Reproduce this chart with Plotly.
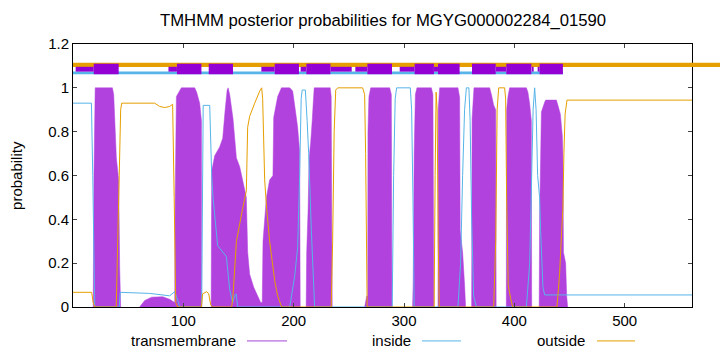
import plotly.graph_objects as go

TITLE = "TMHMM posterior probabilities for MGYG000002284_01590"
LENGTH = 561

# transmembrane posterior probability (read points: residue, probability)
tm_x = [0, 18.3, 19.0, 20.1, 35.7, 36.9, 39.3, 41.4, 42.3, 43.2, 60.4, 65.0, 71.3, 81.3, 87.6, 92.2,
        92.6, 93.7, 98.2, 110.3, 112.1, 114.8, 116.4, 116.6, 125.2, 125.7, 128.4, 132.9, 135.7, 137.9,
        139.7, 140.6, 142.0, 145.0, 148.1, 151.1, 154.1, 157.1, 158.3, 160.1, 163.8, 167.4, 170.1, 171.5,
        172.2, 175.3, 178.2, 181.2, 181.9, 185.5, 188.9, 196.4, 199.1, 200.9, 203.6, 205.4, 205.9,
        211.3, 211.8, 213.1, 214.0, 215.4, 216.8, 217.7, 218.6, 233.1, 234.0, 234.9,
        264.3, 266.2, 267.1, 267.3, 268.2, 269.8, 287.0, 288.5, 289.1,
        307.8, 308.3, 309.2, 310.3, 311.7, 324.8, 326.2, 327.1,
        330.8, 331.0, 332.3, 348.9, 350.4, 350.9, 353.1, 354.9, 355.8,
        361.3, 361.7, 363.4, 377.6, 379.2, 381.3, 383.1, 383.5,
        392.7, 393.0, 394.2, 395.7, 410.9, 412.3, 413.8, 415.4, 415.7,
        422.5, 422.9, 424.5, 427.5, 428.4, 438.1, 439.5, 441.7, 443.5, 444.0, 444.5, 446.5, 447.4, 448.3,
        561]
tm_y = [0, 0, 0.6, 1.0, 1.0, 0.97, 0.68, 0.58, 0.18, 0, 0, 0.03, 0.045, 0.047, 0.035, 0.02,
        0.5, 0.96, 1.0, 1.0, 0.98, 0.93, 0.85, 0, 0, 0.62, 0.69, 0.73, 0.77, 0.9,
        0.99, 1.0, 0.97, 0.86, 0.68, 0.64, 0.57, 0.5, 0.25, 0.15, 0.09, 0.05, 0.02, 0.02,
        0.3, 0.5, 0.58, 0.6, 0.865, 0.96, 1.0, 1.0, 0.985, 0.92, 0.82, 0.71, 0,
        0, 0.25, 0.45, 0.68, 0.75, 0.85, 0.93, 1.0, 1.0, 0.96, 0,
        0, 0.05, 0.05, 0.8, 0.96, 1.0, 1.0, 0.97, 0,
        0, 0.11, 0.7, 0.97, 1.0, 1.0, 0.97, 0,
        0, 0.9, 1.0, 1.0, 0.956, 0.35, 0.25, 0.1, 0,
        0, 0.86, 1.0, 1.0, 0.97, 0.92, 0.9, 0,
        0, 0.9, 0.96, 1.0, 1.0, 0.98, 0.93, 0.85, 0,
        0, 0.4, 0.89, 0.935, 0.944, 0.944, 0.92, 0.88, 0.78, 0.7, 0.25, 0.2, 0.05, 0,
        0]

# inside probability
in_x = [0, 16.7, 17.9, 19.7, 41.9, 42.8, 69.5, 87.6, 92.2, 94.9, 96.7,
        116.6, 118.0, 123.9, 125.7, 126.9, 131.1, 139.0, 142.0, 144.7, 146.5, 147.9, 149.2,
        196.4, 200.9, 203.6, 205.4, 206.8, 207.7, 210.6, 212.2, 213.6, 216.0, 219.0,
        289.3, 290.6, 292.0, 293.3, 305.7, 306.9, 308.1, 309.2,
        348.9, 351.3, 353.1, 354.9, 356.5, 358.8, 359.9, 361.3, 363.1, 365.6,
        410.9, 413.9, 415.7, 417.0, 418.4, 419.7, 421.1, 422.9, 423.8, 425.9, 427.5, 561]
in_y = [0.93, 0.93, 0.6, 0, 0, 0.067, 0.062, 0.051, 0.07, 0.03, 0,
        0, 0.92, 0.92, 0.6, 0.5, 0.28, 0.23, 0.08, 0.02, 0.05, 0.06, 0,
        0, 0.14, 0.27, 0.6, 0.95, 0.99, 0.99, 0.85, 0.7, 0.35, 0,
        0, 0.6, 0.95, 1.0, 1.0, 0.9, 0.5, 0,
        0, 0.2, 0.6, 0.9, 1.0, 1.0, 0.85, 0.4, 0.05, 0,
        0, 0.2, 0.6, 0.9, 1.0, 0.9, 0.6, 0.5, 0.35, 0.09, 0.055, 0.055]

# outside probability
out_x = [0, 16.9, 18.3, 19.7, 39.2, 40.5, 41.9, 43.2, 44.1, 74.0, 78.6, 83.1, 87.6, 90.3, 91.7, 93.1, 94.9,
         116.4, 117.5, 121.2, 123.0, 124.8, 126.6,
         143.8, 145.0, 148.1, 151.1, 153.8, 157.1, 158.3, 160.1, 164.7, 169.2, 171.0, 171.9, 173.7,
         175.5, 178.2, 182.8, 185.5, 189.1,
         234.0, 235.3, 236.7, 238.1, 239.9, 262.5, 264.3, 265.2, 266.6,
         327.3, 328.2, 329.1, 330.0, 331.0, 331.9,
         381.3, 383.1, 384.4, 385.8, 391.2, 392.1, 393.0, 394.4, 396.6, 398.5,
         438.6, 441.0, 442.9, 444.0, 444.9, 446.0, 447.7, 561]
out_y = [0.067, 0.067, 0.02, 0, 0, 0.3, 0.6, 0.9, 0.93, 0.93, 0.915, 0.91, 0.915, 0.925, 0.5, 0.02, 0,
         0, 0.06, 0.07, 0.06, 0.01, 0,
         0, 0.05, 0.3, 0.38, 0.45, 0.53, 0.82, 0.87, 0.93, 0.985, 1.0, 0.95, 0.58,
         0.45, 0.3, 0.12, 0.05, 0,
         0, 0.3, 0.8, 0.99, 1.0, 1.0, 0.97, 0.7, 0,
         0, 0.6, 0.98, 0.9, 0.3, 0,
         0, 0.3, 0.9, 1.0, 1.0, 0.95, 0.5, 0.1, 0.04, 0,
         0, 0.15, 0.35, 0.45, 0.7, 0.88, 0.944, 0.944]

# predicted topology header
tm_box_start = [18.8, 94.2, 123.0, 182.8, 211.5, 266.8, 309.6, 330.8, 361.6, 392.7, 422.9]
tm_box_end = [41.4, 116.4, 145.0, 204.8, 233.3, 289.1, 327.1, 350.4, 383.1, 415.4, 444.0]
low_box_start = [2.4, 86.5, 170.7, 206.3, 233.3, 255.9, 296.1, 327.1, 383.1, 415.7, 421.1]
low_box_end = [18.8, 94.2, 182.8, 211.5, 252.6, 266.8, 309.6, 330.8, 392.7, 417.5, 422.9]
inside_bar_end = 444.0
OUT_LEVEL = 1.105
IN_LEVEL = 1.068
TM_BOX = (1.062, 1.11)
LOW_BOX = (1.074, 1.096)

YMAX = 1.2
TM_FILL = "rgb(178,66,222)"
TM_BOX_COLOR = "#9400D3"
IN_COLOR = "#56B4E9"
OUT_COLOR = "#E69F00"
FONT = "Liberation Sans, Arial, sans-serif"
FS = 15

fig = go.Figure()

# split the transmembrane profile into closed polygons (one per non-zero run)
segments = []
cur = None
for i in range(len(tm_x)):
    xi, yi = tm_x[i], tm_y[i]
    if cur is None:
        if yi == 0 and i + 1 < len(tm_x) and tm_y[i + 1] > 0:
            cur = ([xi], [yi])
    else:
        cur[0].append(xi)
        cur[1].append(yi)
        if yi == 0:
            segments.append(cur)
            cur = None
            if i + 1 < len(tm_x) and tm_y[i + 1] > 0:
                cur = ([xi], [yi])

for sx, sy in segments:
    fig.add_trace(go.Scatter(x=sx, y=sy, mode="lines", fill="toself",
                             line=dict(color=TM_FILL, width=0.5, simplify=False), fillcolor=TM_FILL,
                             showlegend=False, hoverinfo="skip"))
fig.add_trace(go.Scatter(x=in_x, y=in_y, mode="lines",
                         line=dict(color=IN_COLOR, width=1, simplify=False), showlegend=False))
fig.add_trace(go.Scatter(x=out_x, y=out_y, mode="lines",
                         line=dict(color=OUT_COLOR, width=1, simplify=False), showlegend=False))

shapes = []
# outside header line (extends past the right border as in the original)
shapes.append(dict(type="line", xref="paper", yref="paper", x0=0, x1=1.05,
                   y0=OUT_LEVEL / YMAX, y1=OUT_LEVEL / YMAX,
                   line=dict(color=OUT_COLOR, width=4.3), layer="above"))
shapes.append(dict(type="line", xref="x", yref="y", x0=0, x1=inside_bar_end,
                   y0=IN_LEVEL, y1=IN_LEVEL, line=dict(color=IN_COLOR, width=2.7), layer="above"))
for s, e in zip(low_box_start, low_box_end):
    shapes.append(dict(type="rect", xref="x", yref="y", x0=s, x1=e, y0=LOW_BOX[0], y1=LOW_BOX[1],
                       fillcolor=TM_BOX_COLOR, line=dict(width=0), layer="above"))
for s, e in zip(tm_box_start, tm_box_end):
    shapes.append(dict(type="rect", xref="x", yref="y", x0=s, x1=e, y0=TM_BOX[0], y1=TM_BOX[1],
                       fillcolor=TM_BOX_COLOR, line=dict(width=0), layer="above"))

# legend (gnuplot style: text then line sample)
legend_items = [("transmembrane", "rgb(165,70,215)", 0.2666, 0.281, 0.3457),
                ("inside", IN_COLOR, 0.549, 0.5638, 0.6268),
                ("outside", OUT_COLOR, 0.830, 0.8465, 0.908)]
LEG_Y = -0.129
annotations = []
for name, col, tx, lx0, lx1 in legend_items:
    annotations.append(dict(text=name, xref="paper", yref="paper", x=tx, y=LEG_Y,
                            xanchor="right", yanchor="middle", showarrow=False,
                            font=dict(family=FONT, size=FS, color="black")))
    shapes.append(dict(type="line", xref="paper", yref="paper", x0=lx0, x1=lx1, y0=LEG_Y, y1=LEG_Y,
                       line=dict(color=col, width=1)))

annotations.append(dict(text="probability", xref="paper", yref="paper", x=-0.0905, y=0.502,
                        textangle=-90, xanchor="center", yanchor="middle", showarrow=False,
                        font=dict(family=FONT, size=FS, color="black")))
annotations.append(dict(text=TITLE, xref="paper", yref="paper", x=0.5, y=1.091,
                        xanchor="center", yanchor="middle", showarrow=False,
                        font=dict(family=FONT, size=16.7, color="black")))

fig.update_layout(
    width=720, height=352,
    margin=dict(l=73, r=28, t=44, b=45),
    plot_bgcolor="white", paper_bgcolor="white",
    showlegend=False,
    shapes=shapes, annotations=annotations,
    font=dict(family=FONT, size=FS, color="black"),
    xaxis=dict(range=[0, LENGTH], tickvals=[100, 200, 300, 400, 500], ticks="inside", ticklen=4,
               tickcolor="#444", showline=True, linecolor="black", linewidth=1, mirror="ticks",
               showgrid=False, zeroline=False, tickfont=dict(family=FONT, size=FS)),
    yaxis=dict(range=[0, YMAX], tickvals=[0, 0.2, 0.4, 0.6, 0.8, 1.0, 1.2],
               ticktext=["0", "0.2", "0.4", "0.6", "0.8", "1", "1.2"], ticks="inside", ticklen=4,
               tickcolor="#444", showline=True, linecolor="black", linewidth=1, mirror="ticks",
               showgrid=False, zeroline=False, tickfont=dict(family=FONT, size=FS)),
)

fig.write_html("out.html")
